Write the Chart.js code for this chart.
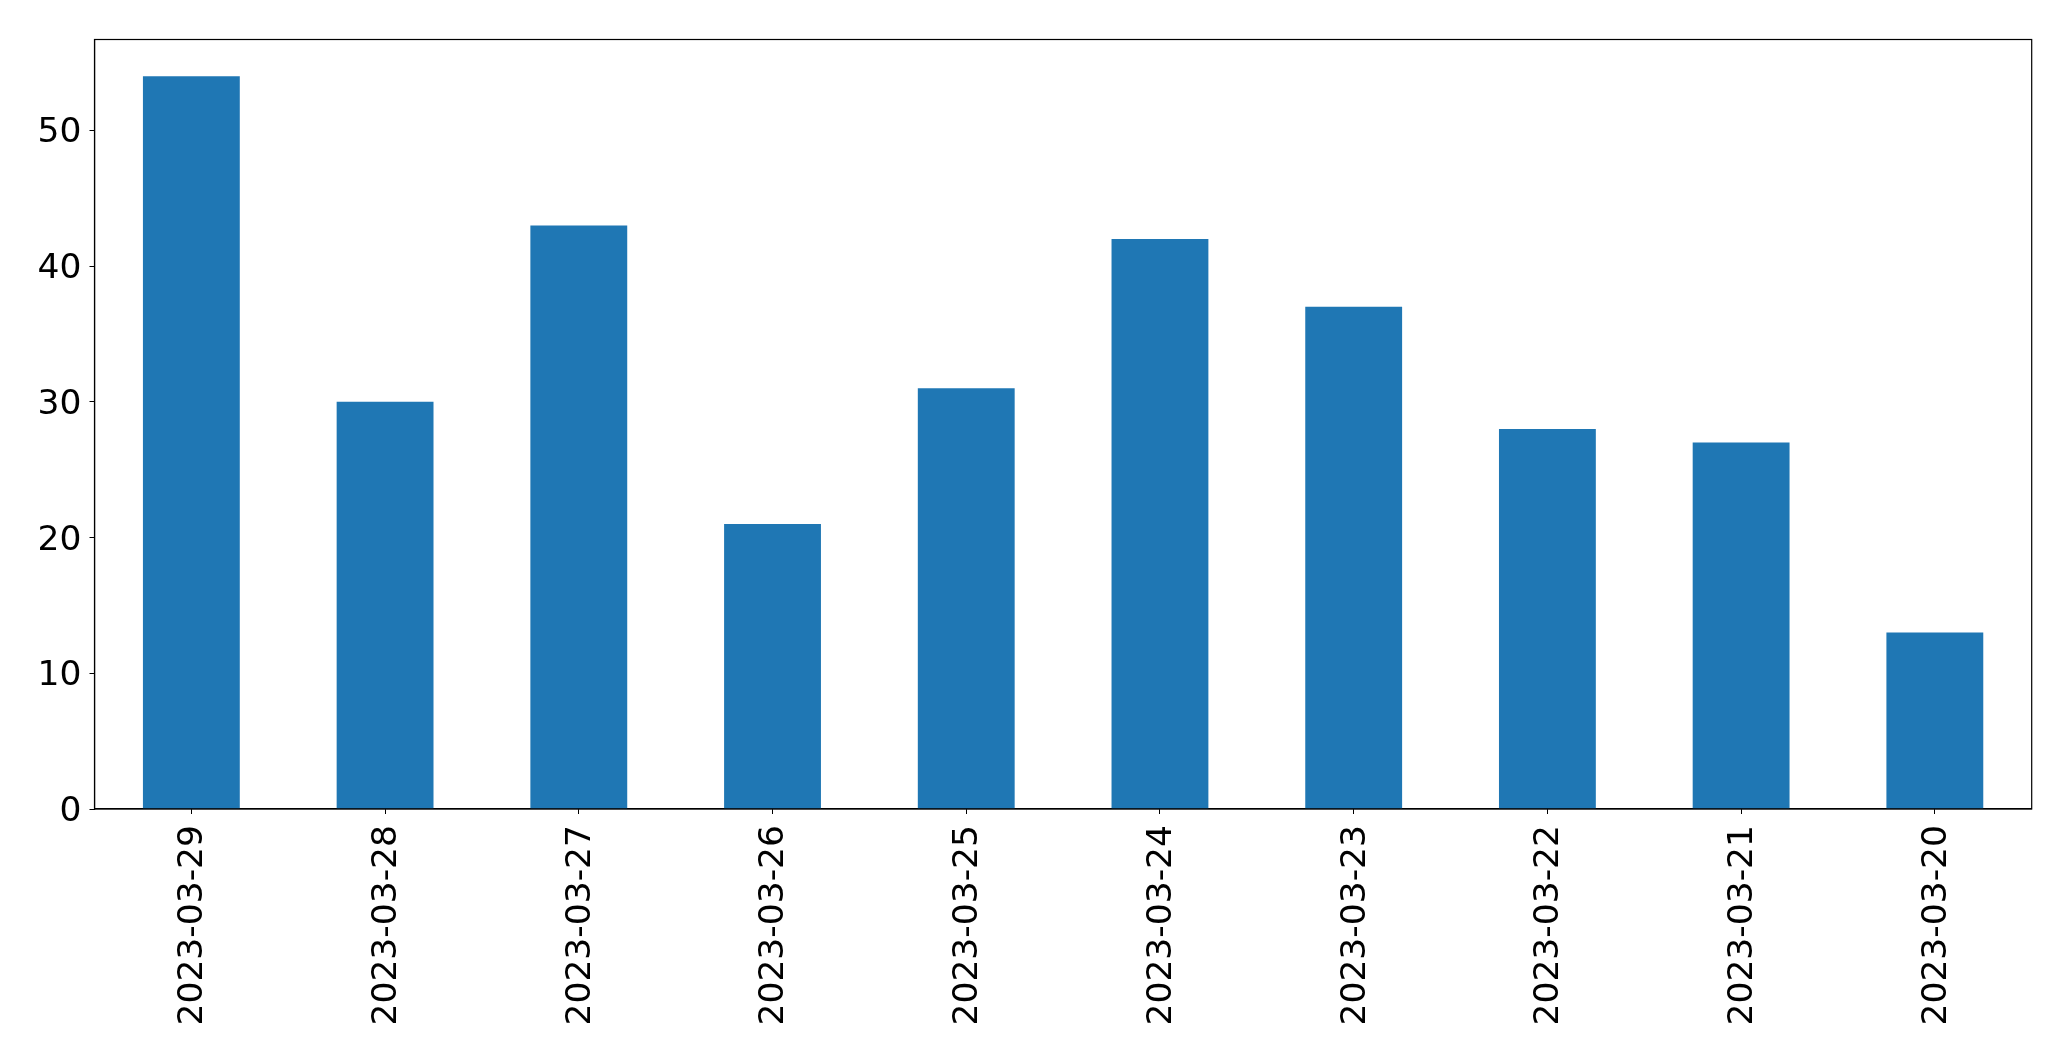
<!DOCTYPE html>
<html>
<head>
<meta charset="utf-8">
<script src="https://cdn.jsdelivr.net/npm/chart.js@4"></script>
<style>
  html, body { margin: 0; padding: 0; background: #ffffff; }
  canvas { display: block; }
</style>
</head>
<body>
<canvas id="c" width="2071" height="1061"></canvas>
<script>
const categories = ["2023-03-29","2023-03-28","2023-03-27","2023-03-26","2023-03-25","2023-03-24","2023-03-23","2023-03-22","2023-03-21","2023-03-20"];
const values = [54, 30, 43, 21, 31, 42, 37, 28, 27, 13];
const yTicks = [0, 10, 20, 30, 40, 50];
const yMax = 56.7;

const FONT = { family: "'DejaVu Sans', sans-serif", size: 34.5 };

const framePlugin = {
  id: 'frame',
  afterDraw(chart) {
    const { ctx, chartArea: a } = chart;
    ctx.save();
    ctx.strokeStyle = '#000000';
    ctx.lineWidth = 1.2;
    ctx.strokeRect(a.left, a.top, a.right - a.left, a.bottom - a.top);
    ctx.restore();
  }
};

new Chart(document.getElementById('c'), {
  type: 'bar',
  data: {
    labels: categories,
    datasets: [{
      data: values,
      backgroundColor: '#1f77b4',
      borderWidth: 0,
      barPercentage: 0.5,
      categoryPercentage: 1.0
    }]
  },
  options: {
    responsive: false,
    devicePixelRatio: 1,
    animation: false,
    layout: { padding: { left: 0, top: 39.5, right: 39.3, bottom: 0 } },
    plugins: { legend: { display: false }, tooltip: { enabled: false } },
    scales: {
      x: {
        offset: true,
        grid: { display: true, drawOnChartArea: false, drawTicks: true, tickLength: 5, color: '#000000', offset: false },
        border: { display: true, color: '#000000', width: 1.2 },
        ticks: { color: '#000000', font: FONT, maxRotation: 90, minRotation: 90, padding: 11, labelOffset: 2, autoSkip: false },
        afterFit(scale) { scale.height = 1061 - 809; }
      },
      y: {
        min: 0,
        max: yMax,
        grid: { display: true, drawOnChartArea: false, drawTicks: true, tickLength: 5, color: '#000000' },
        border: { display: true, color: '#000000', width: 1.2 },
        ticks: { color: '#000000', font: FONT, padding: 8, labelOffset: 3, stepSize: 10 },
        afterBuildTicks(scale) { scale.ticks = yTicks.map(v => ({ value: v })); },
        afterFit(scale) { scale.width = 94.5; }
      }
    }
  },
  plugins: [framePlugin]
});
</script>
</body>
</html>
